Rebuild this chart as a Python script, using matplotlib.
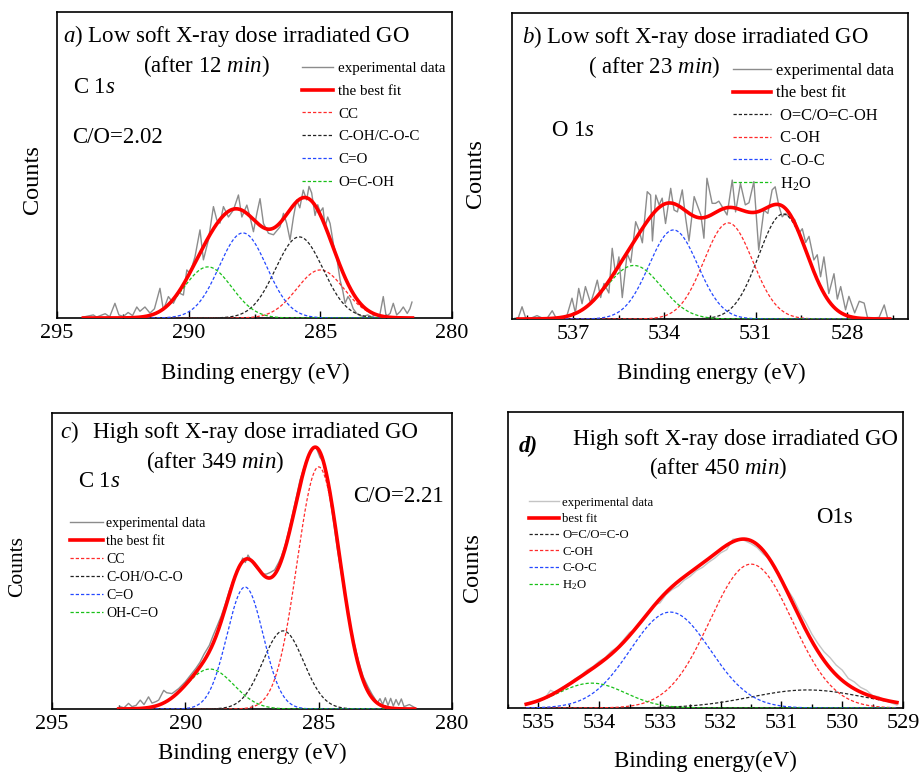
import numpy as np
import matplotlib
matplotlib.use('Agg')
import matplotlib.pyplot as plt
from matplotlib.ticker import MultipleLocator

plt.rcParams['font.family'] = ['Liberation Serif', 'DejaVu Serif']
plt.rcParams['mathtext.fontset'] = 'custom'
plt.rcParams['mathtext.rm'] = 'Liberation Serif'
plt.rcParams['mathtext.it'] = 'Liberation Serif:italic'
plt.rcParams['mathtext.bf'] = 'Liberation Serif:bold'

W, H = 921, 776

# ---------------- panel a : C 1s, low dose (12 min) ----------------
a_experimental = [
    (294.0, 0.3), (293.85, 0.6), (293.62, 1.0), (293.5, 0.3), (293.35, 0.8), (293.17, 1.4),
    (293.0, 0.4), (292.8, 4.8), (292.65, 1.0), (292.48, 0.5), (292.3, 1.8), (292.13, 0.8),
    (291.97, 3.6), (291.85, 2.2), (291.66, 3.6), (291.47, 1.6), (291.3, 3.0), (291.09, 9.7),
    (290.96, 2.6), (290.77, 7.0), (290.58, 4.8), (290.39, 8.3), (290.2, 7.5), (290.07, 15.7),
    (289.95, 14.6), (289.76, 20.0), (289.57, 28.8), (289.44, 19.0), (289.25, 25.5), (289.06, 36.4),
    (288.93, 32.0), (288.81, 31.0), (288.68, 36.4), (288.49, 33.0), (288.3, 35.3), (288.11, 40.2),
    (287.98, 33.0), (287.79, 36.9), (287.67, 33.0), (287.54, 28.2), (287.41, 34.2), (287.29, 39.0),
    (287.16, 30.9), (286.97, 27.7), (286.78, 27.2), (286.53, 29.8), (286.4, 34.2), (286.28, 31.0),
    (286.15, 25.5), (286.02, 33.0), (285.9, 38.6), (285.78, 36.0), (285.65, 41.8), (285.52, 38.6),
    (285.43, 43.0), (285.33, 40.9), (285.2, 33.5), (285.1, 37.0), (285.01, 34.7), (284.9, 36.0),
    (284.82, 29.8), (284.72, 33.0), (284.63, 30.9), (284.5, 24.0), (284.38, 20.0), (284.25, 12.4),
    (284.15, 9.0), (284.06, 4.8), (283.95, 7.0), (283.87, 5.9), (283.75, 3.0), (283.62, 1.5),
    (283.5, 0.8), (283.36, 0.5), (283.2, 1.0), (283.05, 0.4), (282.9, 1.2), (282.75, 0.6),
    (282.61, 7.0), (282.5, 0.5), (282.35, 1.5), (282.23, 4.8), (282.1, 1.0), (281.98, 2.0),
    (281.85, 3.6), (281.7, 1.5), (281.6, 3.0), (281.52, 5.2),
]
a_span = (294.0, 281.5)
a_labels = ['CC', 'C-OH/C-O-C', 'C=O', 'O=C-OH']
a_center = [285.0, 285.8, 287.94, 289.27]
a_height = [15.7, 26.5, 27.8, 16.7]
a_fwhm = [2.12, 2.12, 2.12, 2.12]
a_colors = ['#ff2a2a', '#222222', '#2448ff', '#18c018']
a_xticks = [295, 290, 285, 280]

# ---------------- panel b : O 1s, low dose (23 min) ----------------
b_experimental = [
    (538.9, 0.3), (538.8, 0.2), (538.67, 4.0), (538.55, 0.3), (538.4, 0.2), (538.18, 1.1),
    (538.0, 0.3), (537.85, 0.2), (537.68, 2.7), (537.55, 0.3), (537.4, 0.5), (537.2, 1.0),
    (537.03, 6.8), (536.92, 2.0), (536.81, 10.0), (536.7, 5.0), (536.59, 10.6), (536.42, 5.2),
    (536.3, 9.0), (536.2, 12.7), (536.09, 7.0), (535.98, 11.6), (535.82, 8.5), (535.71, 23.1),
    (535.6, 14.6), (535.49, 20.3), (535.38, 7.0), (535.22, 21.4), (535.1, 18.5), (534.94, 31.8),
    (534.83, 29.0), (534.72, 24.9), (534.56, 41.6), (534.45, 40.5), (534.39, 25.5), (534.28, 40.5),
    (534.17, 37.3), (534.07, 39.5), (533.96, 31.2), (533.79, 42.7), (533.68, 35.6), (533.57, 35.0),
    (533.41, 42.2), (533.3, 33.0), (533.19, 25.5), (533.02, 40.0), (532.91, 37.0), (532.8, 34.0),
    (532.7, 26.4), (532.6, 46.0), (532.43, 37.8), (532.32, 37.8), (532.21, 38.5), (532.1, 36.7),
    (531.94, 34.0), (531.77, 45.4), (531.66, 35.0), (531.5, 44.3), (531.34, 37.3), (531.22, 38.0),
    (531.06, 44.9), (530.9, 22.5), (530.73, 35.6), (530.6, 34.5), (530.46, 42.2), (530.36, 43.2),
    (530.24, 37.0), (530.13, 33.4), (530.02, 34.5), (529.86, 33.0), (529.72, 32.5), (529.58, 28.0),
    (529.47, 29.5), (529.36, 25.0), (529.25, 27.0), (529.09, 19.3), (528.98, 21.0), (528.87, 13.8),
    (528.76, 20.3), (528.6, 8.3), (528.43, 14.8), (528.32, 6.5), (528.21, 10.6), (528.05, 3.0),
    (527.94, 7.4), (527.75, 2.0), (527.6, 5.8), (527.44, 5.2), (527.33, 0.5), (527.1, 0.4),
    (526.95, 0.5), (526.78, 4.6), (526.67, 0.3), (526.6, 0.2),
]
b_span = (538.8, 526.6)
b_labels = [' O=C/O=C-OH', ' C-OH', ' C-O-C', ' H$_2$O']
b_center = [530.1, 531.9, 533.7, 535.0]
b_height = [34.3, 31.4, 29.1, 17.5]
b_fwhm = [1.88, 1.88, 1.88, 2.12]
b_colors = ['#222222', '#ff2a2a', '#2448ff', '#18c018']
b_xticks = [537, 534, 531, 528]

# ---------------- panel c : C 1s, high dose (349 min) ----------------
c_experimental = [
    (292.5, 0.3), (292.44, 0.8), (292.3, 0.4), (292.13, 1.9), (292.0, 0.8), (291.85, 1.2),
    (291.69, 3.0), (291.55, 1.5), (291.38, 4.1), (291.25, 2.0), (291.1, 2.5), (291.0, 3.0),
    (290.81, 6.3), (290.7, 5.5), (290.5, 5.2), (290.25, 6.9), (290.0, 9.2), (289.8, 11.5),
    (289.6, 13.8), (289.45, 15.8), (289.3, 18.5), (289.1, 21.5), (288.95, 25.0), (288.82, 27.8),
    (288.65, 31.5), (288.5, 35.5), (288.35, 40.0), (288.2, 43.6), (288.05, 47.0), (287.95, 48.5),
    (287.85, 51.0), (287.75, 49.5), (287.65, 52.0), (287.55, 50.5), (287.45, 49.0), (287.32, 47.5),
    (287.2, 46.5), (287.1, 45.5), (286.95, 45.6), (286.8, 46.2), (286.65, 47.0), (286.5, 49.5),
    (286.4, 51.5), (286.25, 55.5), (286.08, 61.8), (285.9, 69.0), (285.7, 77.3), (285.5, 83.0),
    (285.33, 86.3), (285.2, 88.5), (285.08, 88.0), (284.95, 85.0), (284.83, 83.6), (284.7, 78.0),
    (284.6, 73.0), (284.45, 63.8), (284.3, 54.0), (284.2, 48.5), (284.07, 41.3), (283.9, 32.0),
    (283.7, 23.3), (283.5, 16.0), (283.33, 10.9), (283.15, 7.5), (283.0, 5.0), (282.9, 3.6),
    (282.8, 2.0), (282.7, 3.5), (282.6, 1.5), (282.5, 3.8), (282.4, 1.2), (282.3, 3.6),
    (282.2, 1.0), (282.1, 3.2), (282.0, 1.3), (281.9, 3.4), (281.8, 0.8), (281.6, 1.5),
    (281.4, 0.5),
]
c_span = (292.5, 281.4)
c_labels = ['CC', 'C-OH/O-C-O', 'C=O', 'OH-C=O']
c_center = [285.0, 286.33, 287.76, 289.08]
c_height = [81.8, 26.4, 41.2, 13.5]
c_fwhm = [1.9, 1.8, 1.6, 2.1]
c_colors = ['#ff2a2a', '#222222', '#2448ff', '#18c018']
c_xticks = [295, 290, 285, 280]

# ---------------- panel d : O 1s, high dose (450 min) ----------------
d_experimental = [
    (535.2, 1.5), (535.1, 2.2), (535.0, 2.0), (534.9, 3.2), (534.8, 6.0), (534.7, 5.0),
    (534.6, 7.0), (534.5, 8.2), (534.4, 9.8), (534.3, 11.0), (534.2, 12.8), (534.1, 14.0),
    (534.0, 15.8), (533.9, 17.0), (533.8, 19.2), (533.7, 20.5), (533.6, 23.0), (533.5, 25.5),
    (533.4, 26.5), (533.3, 28.8), (533.2, 31.5), (533.1, 34.8), (533.0, 35.5), (532.9, 38.3),
    (532.8, 40.0), (532.7, 41.2), (532.6, 43.2), (532.5, 44.5), (532.4, 46.4), (532.3, 47.5),
    (532.2, 49.2), (532.1, 50.6), (532.0, 52.4), (531.9, 53.5), (531.8, 57.0), (531.7, 57.2),
    (531.6, 56.5), (531.5, 55.5), (531.4, 54.2), (531.3, 52.0), (531.2, 50.4), (531.1, 46.5),
    (531.0, 43.4), (530.9, 40.0), (530.8, 36.8), (530.7, 32.5), (530.6, 29.0), (530.5, 25.0),
    (530.4, 21.8), (530.3, 19.0), (530.2, 17.0), (530.1, 14.5), (530.0, 12.8), (529.9, 10.0),
    (529.8, 8.8), (529.7, 7.0), (529.6, 6.0), (529.5, 4.2), (529.4, 3.8), (529.3, 2.5),
    (529.2, 1.8), (529.1, 1.0),
]
d_span = (535.2, 529.1)
d_labels = ['O=C/O=C-O', 'C-OH', 'C-O-C', 'H$_2$O']
d_center = [530.57, 531.5, 532.83, 534.12]
d_height = [6.1, 48.6, 32.4, 8.4]
d_fwhm = [2.2, 1.6, 1.55, 1.3]
d_colors = ['#222222', '#ff2a2a', '#2448ff', '#18c018']
d_xticks = [535, 534, 533, 532, 531, 530, 529]


def peak(E, c, h, w):
    return h * np.exp(-4 * np.log(2) * (E - c) ** 2 / w ** 2)


fig = plt.figure(figsize=(W / 100, H / 100), dpi=100)


def px_axes(l, t, r, b):
    return fig.add_axes([l / W, 1 - b / H, (r - l) / W, (b - t) / H])


def ftext(x, y, s, **kw):
    kw.setdefault('fontsize', 16.5)
    kw.setdefault('va', 'baseline')
    kw.setdefault('ha', 'left')
    fig.text(x / W, 1 - y / H, s, **kw)


def draw_panel(ax, exp, span, labels, centers, heights, fwhms, colors, xlim, xticks, minor,
               exp_color, fit_label, leg_anchor, leg_fs, leg_hl, leg_pad, leg_sp,
               xlabel, xlab_pos, ylab_pos, ylab_fs):
    E = np.linspace(span[0], span[1], 700)
    ex, ey = zip(*exp)
    h_exp, = ax.plot(ex, ey, color=exp_color, lw=1.0, zorder=2, label='experimental data')
    total = np.zeros_like(E)
    handles = []
    for lab, c, h, w, col in zip(labels, centers, heights, fwhms, colors):
        y = peak(E, c, h, w)
        total += y
        hh, = ax.plot(E, y, color=col, lw=0.9, ls=(0, (2.6, 1.6)), zorder=3, label=lab)
        handles.append(hh)
    h_fit, = ax.plot(E, total, color='#ff0000', lw=2.6, zorder=4, label=fit_label)
    ax.set_xlim(*xlim)
    ax.set_ylim(0, 100)
    ax.set_yticks([])
    ax.set_xticks(xticks)
    ax.xaxis.set_minor_locator(MultipleLocator(minor))
    ax.tick_params(axis='x', which='both', direction='in', top=False, labelsize=16, pad=4, width=1)
    ax.tick_params(axis='x', which='major', length=5)
    ax.tick_params(axis='x', which='minor', length=3)
    for s in ax.spines.values():
        s.set_linewidth(1.2)
    ax.set_xlabel(xlabel, fontsize=16.5)
    ax.xaxis.set_label_coords(*xlab_pos)
    ax.set_ylabel('Counts', fontsize=ylab_fs, va='center')
    ax.yaxis.set_label_coords(*ylab_pos)
    ax.legend([h_exp, h_fit] + handles,
              ['experimental data', fit_label] + labels,
              loc='upper left', bbox_to_anchor=(leg_anchor[0] / W, 1 - leg_anchor[1] / H),
              bbox_transform=fig.transFigure, frameon=False, fontsize=leg_fs,
              handlelength=leg_hl, handletextpad=leg_pad, labelspacing=leg_sp,
              borderpad=0, borderaxespad=0)
    return ax


ax_a = px_axes(57, 12, 452, 318)
draw_panel(ax_a, a_experimental, a_span, a_labels, a_center, a_height, a_fwhm, a_colors,
           (295, 280), a_xticks, 2.5, '#8c8c8c', 'the best fit', (302, 61.5), 10.8, 2.07, 0.33, 0.62,
           'Binding energy (eV)', (0.501, -0.147), (-0.061, 0.451), 17.5)
ax_b = px_axes(512, 13, 908, 319)
draw_panel(ax_b, b_experimental, b_span, b_labels, b_center, b_height, b_fwhm, b_colors,
           (539, 526), b_xticks, 1.5, '#8c8c8c', 'the best fit', (733, 63), 11.9, 2.3, 0.3, 0.39,
           'Binding energy (eV)', (0.5025, -0.144), (-0.093, 0.474), 17.5)
ax_c = px_axes(52, 413, 452, 709)
draw_panel(ax_c, c_experimental, c_span, c_labels, c_center, c_height, c_fwhm, c_colors,
           (295, 280), c_xticks, 2.5, '#8c8c8c', 'the best fit', (70, 516.5), 10, 2.4, 0.2, 0.37,
           'Binding energy (eV)', (0.5, -0.115), (-0.085, 0.48), 15.5)
ax_d = px_axes(508, 412, 903, 708)
draw_panel(ax_d, d_experimental, d_span, d_labels, d_center, d_height, d_fwhm, d_colors,
           (535.5, 529), d_xticks, 0.5, '#c4c4c4', 'best fit', (529, 496.7), 9.2, 2.35, 0.24, 0.34,
           'Binding energy(eV)', (0.501, -0.145), (-0.091, 0.473), 17.5)

# annotations
ftext(63, 42, r'$\mathit{a}$) Low soft X-ray dose irradiated GO')
ftext(143, 72, r'(after 12 $\mathit{min}$)')
ftext(73, 93, r'C 1$\mathit{s}$')
ftext(72, 143, 'C/O=2.02')

ftext(522, 43, r'$\mathit{b}$) Low soft X-ray dose irradiated GO')
ftext(588, 73, r'( after 23 $\mathit{min}$)')
ftext(551, 136, r'O 1$\mathit{s}$')

ftext(60, 438, r'$\mathit{c}$)')
ftext(93, 438, 'High soft X-ray dose irradiated GO')
ftext(146, 468, r'(after 349 $\mathit{min}$)')
ftext(78, 487, r'C 1$\mathit{s}$')
ftext(353, 502, 'C/O=2.21')

ftext(519, 452, 'd)', style='italic', weight='bold')
ftext(573, 445, 'High soft X-ray dose irradiated GO')
ftext(649, 474, r'(after 450 $\mathit{min}$)')
ftext(816, 523, 'O1s')

fig.savefig('out.png', dpi=100)
